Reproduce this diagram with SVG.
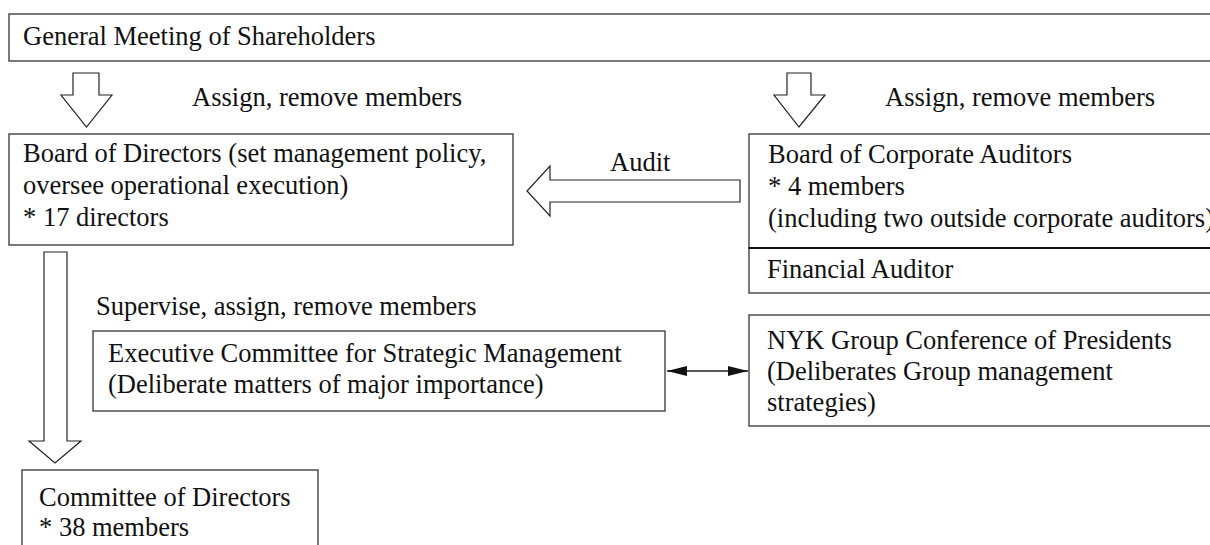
<svg xmlns="http://www.w3.org/2000/svg" width="1210" height="545" viewBox="0 0 1210 545">
<style>
.box{fill:#fff;stroke:#333;stroke-width:1.3}
.blk{fill:#fff;stroke:#222;stroke-width:1.2}
text{font-family:"Liberation Serif","Times New Roman",serif;font-size:26.5px;fill:#111}
.con{stroke:#222;stroke-width:1.3;fill:none}
</style>
<defs>
<marker id="ah" viewBox="0 0 20 10" refX="20" refY="5" markerWidth="20" markerHeight="10" markerUnits="userSpaceOnUse" orient="auto-start-reverse">
<path d="M0,0 L20,5 L0,10 Z" fill="#111"/>
</marker>
</defs>
<rect width="1210" height="545" fill="#fff"/>
<g id="general-meeting">
<rect class="box" x="9" y="14" width="1210" height="47"/>
<text x="23" y="45">General Meeting of Shareholders</text>
</g>
<g id="board-of-directors">
<rect class="box" x="9" y="134" width="504" height="111"/>
<text x="23" y="162">Board of Directors (set management policy,</text>
<text x="23" y="194">oversee operational execution)</text>
<text x="23" y="226">* 17 directors</text>
</g>
<g id="board-of-corporate-auditors">
<rect class="box" x="749" y="134" width="470" height="114"/>
<text x="768" y="163">Board of Corporate Auditors</text>
<text x="768" y="195">* 4 members</text>
<text x="768" y="227">(including two outside corporate auditors)</text>
</g>
<g id="financial-auditor">
<rect class="box" x="749" y="248" width="470" height="45"/>
<line x1="749" y1="248" x2="1210" y2="248" stroke="#111" stroke-width="2.2"/>
<text x="767" y="278">Financial Auditor</text>
</g>
<g id="executive-committee">
<rect class="box" x="93" y="331" width="572" height="80"/>
<text x="108" y="362">Executive Committee for Strategic Management</text>
<text x="108" y="393">(Deliberate matters of major importance)</text>
</g>
<g id="nyk-group-conference">
<rect class="box" x="749" y="315" width="470" height="111"/>
<text x="767" y="349">NYK Group Conference of Presidents</text>
<text x="767" y="380">(Deliberates Group management</text>
<text x="767" y="411">strategies)</text>
</g>
<g id="committee-of-directors">
<rect class="box" x="22" y="470" width="296" height="90"/>
<text x="39" y="506">Committee of Directors</text>
<text x="39" y="536">* 38 members</text>
</g>
<g id="connectors">
<polygon class="blk" points="73,73 99,73 99,95 112,95 86.5,127 61,95 73,95"/>
<text x="192" y="106">Assign, remove members</text>
<polygon class="blk" points="787,73 811,73 811,95 825,95 799,127 774,95 787,95"/>
<text x="885" y="106">Assign, remove members</text>
<polygon class="blk" points="740,180 740,202 550,202 550,216 527,191 550,166 550,180"/>
<text x="610" y="171">Audit</text>
<polygon class="blk" points="44,252 67,252 67,441 81,441 55,463 29,441 44,441"/>
<text x="96" y="315">Supervise, assign, remove members</text>
<line class="con" x1="667" y1="371" x2="748" y2="371" marker-start="url(#ah)" marker-end="url(#ah)"/>
</g>
</svg>
